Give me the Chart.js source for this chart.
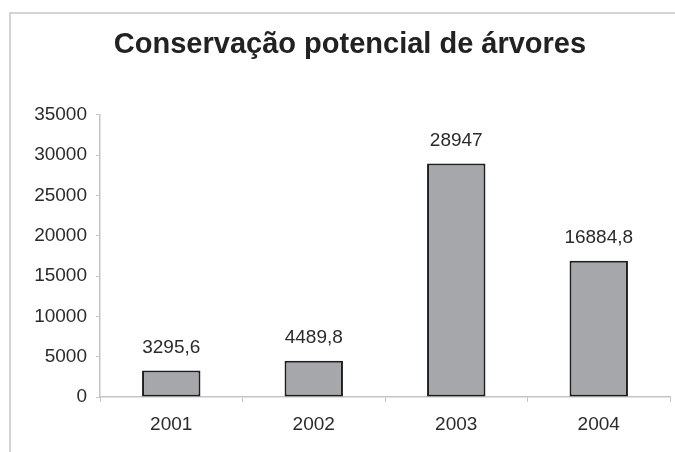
<!DOCTYPE html>
<html>
<head>
<meta charset="utf-8">
<script src="https://cdn.jsdelivr.net/npm/chart.js@4"></script>
<style>
  html, body { margin: 0; padding: 0; background: #fff; overflow: hidden; }
  #frame {
    position: absolute; left: 9px; top: 12px; width: 720px; height: 500px;
    border: 2px solid #d4d4d4;
  }
  #wrap { position: absolute; left: 0; top: 0; width: 675px; height: 452px; }
</style>
</head>
<body>
<div id="frame"></div>
<div id="wrap"><canvas id="treeChart" width="675" height="452"></canvas></div>
<script>
const years = ["2001", "2002", "2003", "2004"];
const treeValues = [3295.6, 4489.8, 28947, 16884.8];
const chartTitle = "Conservação potencial de árvores";

const FONT = "'Liberation Sans', Arial, sans-serif";

/* value labels above each bar, decimal comma */
const barLabels = {
  id: "barLabels",
  afterDatasetsDraw(chart) {
    const ctx = chart.ctx;
    const meta = chart.getDatasetMeta(0);
    ctx.save();
    ctx.font = "19px " + FONT;
    ctx.fillStyle = "#2b2b2b";
    ctx.textAlign = "center";
    ctx.textBaseline = "middle";
    meta.data.forEach((bar, i) => {
      const txt = String(treeValues[i]).replace(".", ",");
      ctx.fillText(txt, bar.x, bar.y - 23);
    });
    ctx.restore();
  }
};

new Chart(document.getElementById("treeChart"), {
  type: "bar",
  data: {
    labels: years,
    datasets: [{
      data: treeValues,
      backgroundColor: "#a5a7aa",
      borderColor: "#1e1e1e",
      borderWidth: 2,
      borderSkipped: false,
      categoryPercentage: 1,
      barPercentage: 0.41
    }]
  },
  options: {
    responsive: false,
    animation: false,
    layout: { padding: { left: 30, right: 5, top: 0, bottom: 0 } },
    plugins: {
      legend: { display: false },
      tooltip: { enabled: false },
      title: {
        display: true,
        text: chartTitle,
        color: "#222",
        font: { family: FONT, size: 29, weight: "bold" },
        padding: { top: 28, bottom: 52 }
      }
    },
    scales: {
      x: {
        grid: { drawOnChartArea: false, tickLength: 5, color: "#c4c4c4", offset: true },
        border: { color: "#c4c4c4", width: 1.5 },
        ticks: { color: "#2b2b2b", font: { family: FONT, size: 19 }, padding: 11 },
        afterFit(scale) { scale.height = 55; }
      },
      y: {
        min: 0,
        max: 35000,
        grid: { drawOnChartArea: false, tickLength: 4, color: "#c4c4c4" },
        border: { color: "#c4c4c4", width: 1.5 },
        ticks: {
          stepSize: 5000,
          color: "#2b2b2b",
          font: { family: FONT, size: 19 },
          padding: 9,
          callback: v => String(v)
        },
        afterFit(scale) { scale.width = 70; }
      }
    }
  },
  plugins: [barLabels]
});
</script>
</body>
</html>
